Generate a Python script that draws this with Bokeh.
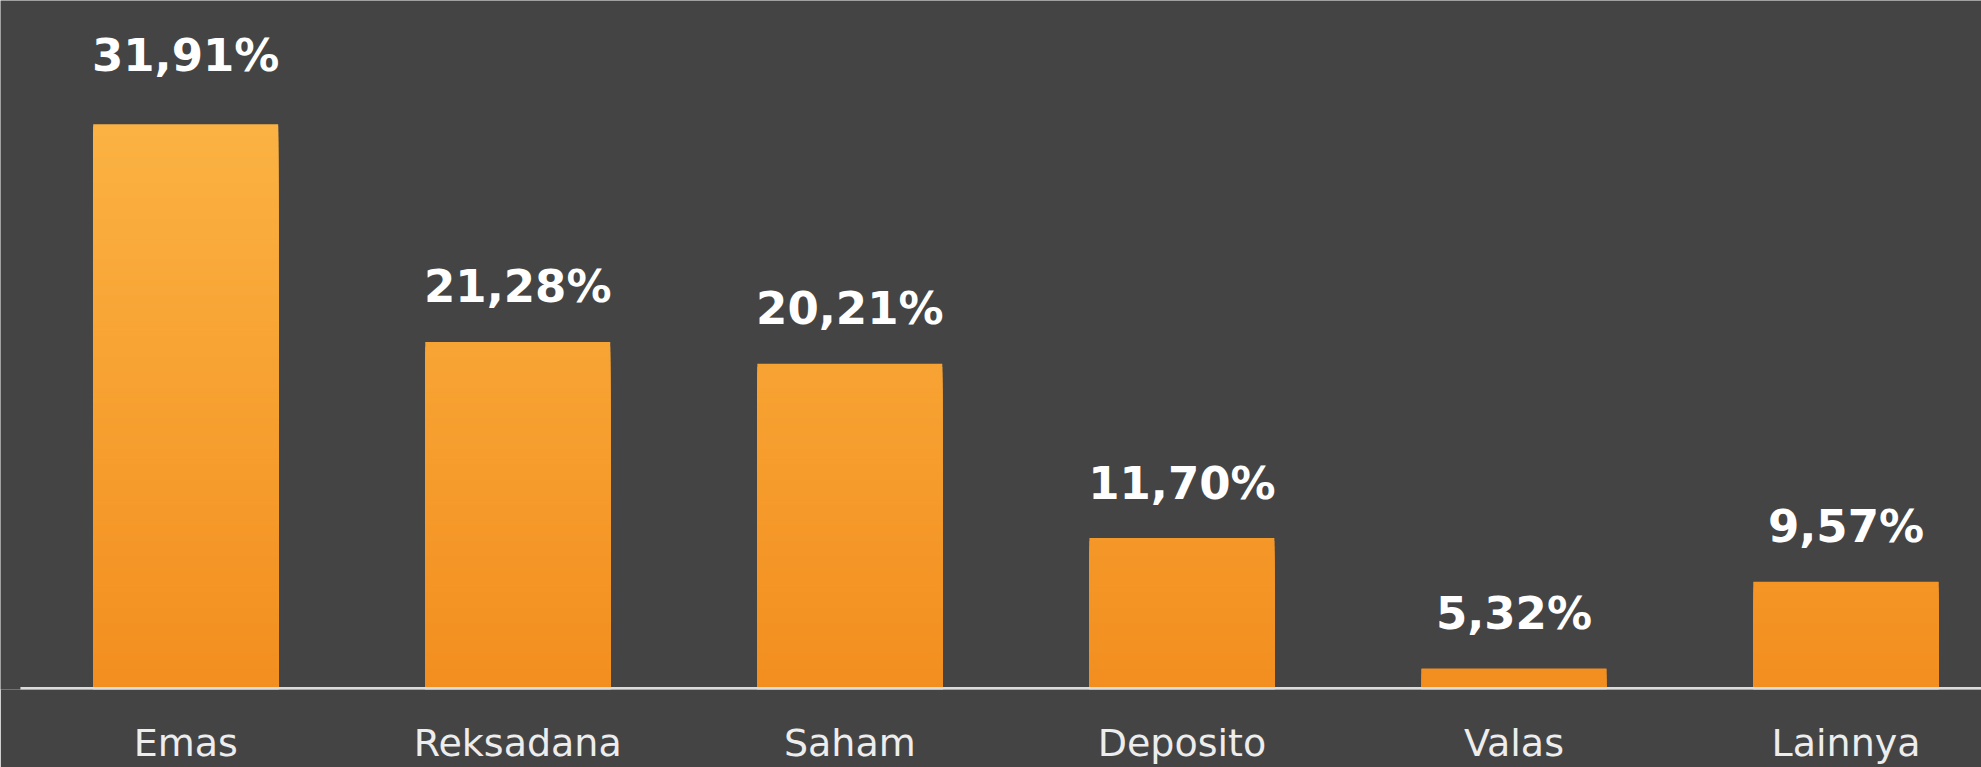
import numpy as np
from bokeh.plotting import figure
from bokeh.models import ColumnDataSource, Range1d, FixedTicker
from bokeh.core.properties import value
from bokeh.embed import file_html
from bokeh.resources import INLINE

# ---- data ----
categories = ["Emas", "Reksadana", "Saham", "Deposito", "Valas", "Lainnya"]
shares = [31.91, 21.28, 20.21, 11.70, 5.32, 9.57]
share_labels = ["31,91%", "21,28%", "20,21%", "11,70%", "5,32%", "9,57%"]

# ---- style ----
BASE = 4.3
BG = "#444445"
COL_BOTTOM = (242, 142, 31)
COL_TOP = (251, 178, 66)
BAR_W = 0.557
X0, X1 = -0.5577, 5.408

p = figure(width=1981, height=767, output_backend="svg", toolbar_location=None,
           x_range=Range1d(X0, X1), y_range=Range1d(BASE, 37.96),
           min_border_left=0, min_border_right=0, min_border_top=0,
           min_border_bottom=77,
           background_fill_color=BG, border_fill_color=BG,
           outline_line_color=None)

xs = list(range(len(categories)))
vmax = max(shares)

# gradient bars built as overlapping bands (painted top level first)
step = 0.25
levels = np.arange(BASE + step, vmax + step, step)[::-1]
bx, btop, bcol = [], [], []
for L in levels:
    t = min(1.0, (L - BASE) / (vmax - BASE))
    c = tuple(int(round(a + (b - a) * t)) for a, b in zip(COL_BOTTOM, COL_TOP))
    hexc = "#%02x%02x%02x" % c
    for x, v in zip(xs, shares):
        if v > L - step:
            bx.append(x)
            btop.append(min(L, v))
            bcol.append(hexc)
band_src = ColumnDataSource(dict(x=bx, top=btop, color=bcol))
p.vbar(x="x", top="top", bottom=BASE, width=BAR_W, fill_color="color",
       line_color=None, source=band_src)

# baseline (starts slightly in from the left edge; lower half is clipped by frame)
p.segment(x0=[X0 + 0.06], x1=[X1], y0=[BASE], y1=[BASE],
          line_color="#DCDCDC", line_width=5)

# value labels
offsets = [-69 if c == "Emas" else -55 for c in categories]
lab_src = ColumnDataSource(dict(x=xs, y=shares, text=share_labels, off=offsets))
p.text(x="x", y="y", text="text", y_offset="off", source=lab_src,
       text_align="center", text_baseline="alphabetic",
       text_font=value("DejaVu Sans"), text_font_style="bold",
       text_font_size="45px", text_color="#FFFFFF")

# axes
p.yaxis.visible = False
p.xgrid.visible = False
p.ygrid.visible = False
p.xaxis.ticker = FixedTicker(ticks=xs)
p.xaxis.major_label_overrides = {i: c for i, c in zip(xs, categories)}
p.xaxis.axis_line_color = None
p.xaxis.major_tick_line_color = None
p.xaxis.minor_tick_line_color = None
p.xaxis.major_tick_out = 0
p.xaxis.major_label_standoff = 31
p.xaxis.major_label_text_font = "DejaVu Sans"
p.xaxis.major_label_text_font_size = "38px"
p.xaxis.major_label_text_color = "#EDEDED"

open("out.html", "w").write(file_html(p, INLINE))
